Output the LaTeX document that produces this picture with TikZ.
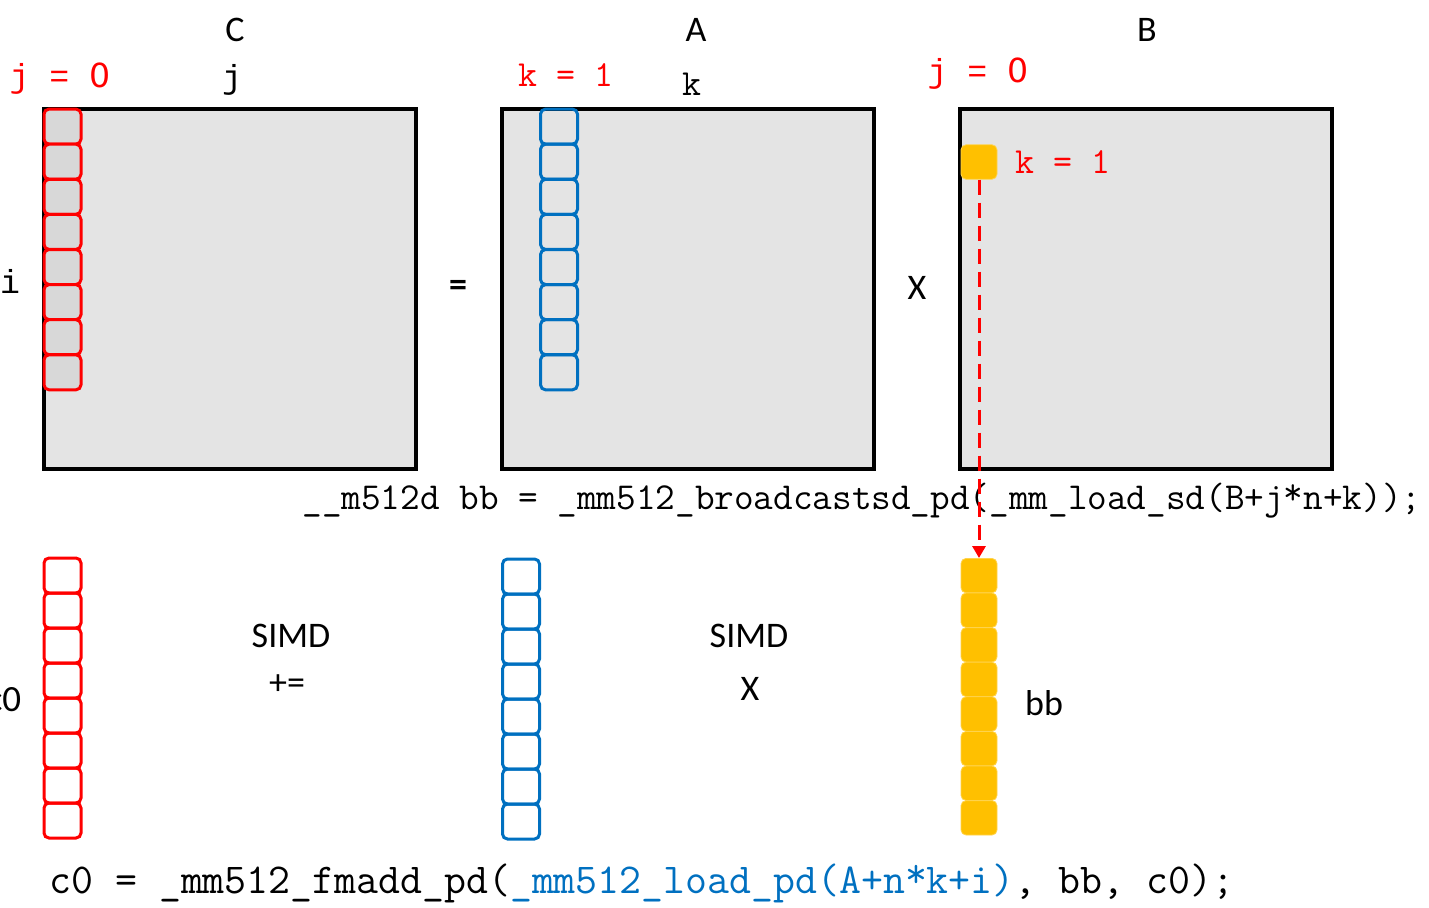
\documentclass[tikz,border=0pt]{standalone}
\usepackage{fontspec}
\setmainfont{Carlito}
\newfontfamily\lmono{Liberation Mono}
\newfontfamily\zfont{DejaVu Sans}
\newcommand\hiast{\raisebox{0.3ex}{*}}
\newcommand\pzero{{\zfont 0}}
\definecolor{cred}{HTML}{FF0000}
\usetikzlibrary{arrows.meta}
\definecolor{cblue}{HTML}{0070C0}
\definecolor{cyel}{HTML}{FFC000}
\definecolor{mgray}{HTML}{E4E4E4}
\definecolor{cgray}{HTML}{D8D8D8}
\begin{document}
\begin{tikzpicture}[x=0.5pt,y=-0.5pt,
  matbox/.style={draw=black, line width=1.75pt, fill=mgray, minimum width=186pt, minimum height=180pt, inner sep=0pt},
  cellbase/.style={line width=1.5pt, rounded corners=2.5pt, minimum width=18.5pt, minimum height=17.5pt, inner sep=0pt},
  redcell/.style={cellbase, draw=cred},
  bluecell/.style={cellbase, draw=cblue},
  yelcell/.style={cellbase, fill=cyel, draw=cyel!70!white, line width=0.4pt, minimum width=18pt, minimum height=17.2pt},
  title/.style={inner sep=0pt, font=\fontsize{18}{20}\selectfont},
  redlab/.style={inner sep=0pt, text=cred, font=\lmono\fontsize{16.6}{18}\selectfont},
  redlabc/.style={inner sep=0pt, text=cred, font=\ttfamily\fontsize{18.4}{20}\selectfont},
  blklab/.style={inner sep=0pt, font=\lmono\fontsize{16.6}{18}\selectfont},
  blklabc/.style={inner sep=0pt, font=\ttfamily\fontsize{18.4}{20}\selectfont},
  code/.style={inner sep=0pt, anchor=base west}
]
\useasboundingbox (0,0) rectangle (1429,907);

% matrices
\node[matbox] (C) at (230,289) {};
\node[matbox] (A) at (688,289) {};
\node[matbox] (B) at (1146,289) {};

% titles
\node[title] (tC) at (235,30) {C};
\node[title] (tA) at (696,30) {A};
\node[title] (tB) at (1147,30) {B};

% index labels
\node[redlab] (j0C) at (60,79) {j = \pzero};
\node[blklab] (jC) at (232,80) {j};
\node[blklab] (iC) at (10,281) {i};
\node[redlabc] (k1A) at (566,75) {k = 1};
\node[blklabc] (kA) at (692,84) {k};
\node[redlab] (j0B) at (978,74) {j = \pzero};
\node[redlabc] (k1B) at (1063,162) {k = 1};

\node[title, font=\bfseries\fontsize{18}{20}\selectfont] (eq) at (458,288) {=};
\node[title] (xx) at (917,288) {X};

% top cells
\foreach \i in {1,...,8} {
  \node[redcell, fill=cgray] (cr\i) at (62.5,{91.5+35.1*\i}) {};
  \node[bluecell] (ab\i) at (559,{91.5+35.1*\i}) {};
}
\node[yelcell] (yb) at (979,162) {};

% bottom cells
\foreach \i in {1,...,8} {
  \node[redcell] (br\i) at (62.5,{540.5+35*\i}) {};
  \node[bluecell] (bb\i) at (521,{541.5+35*\i}) {};
  \node[yelcell] (by\i) at (979,{541+34.6*\i}) {};
}

% code line 1
\node[code, font=\ttfamily\fontsize{19.06}{21}\selectfont] (code1) at (302,509)
  {\_\_m512d bb = \_mm512\_broadcastsd\_pd(\_mm\_load\_sd(B+j\hiast n+k));};

% arrow
\draw[cred, line width=1.5pt, dash pattern=on 7.5pt off 4pt, -{Triangle[length=6pt,width=6.5pt]}]
  (yb.south) -- (by1.north);

% bottom labels
\node[title] (simd1) at (291,636) {SIMD};
\node[title] (pe) at (287,685) {+=};
\node[title] (simd2) at (749,636) {SIMD};
\node[title] (x2) at (750,689) {X};
\node[title] (bbl) at (1044,703) {bb};
\node[title, font=\fontsize{18.5}{20}\selectfont] (c0l) at (4,700) {c0};

% code line 2
\node[code, font=\ttfamily\fontsize{21.3}{23}\selectfont] (code2) at (49,893)
  {c0 = \_mm512\_fmadd\_pd({\color{cblue}\_mm512\_load\_pd(A+n\hiast k+i)}, bb, c0);};
\end{tikzpicture}
\end{document}
